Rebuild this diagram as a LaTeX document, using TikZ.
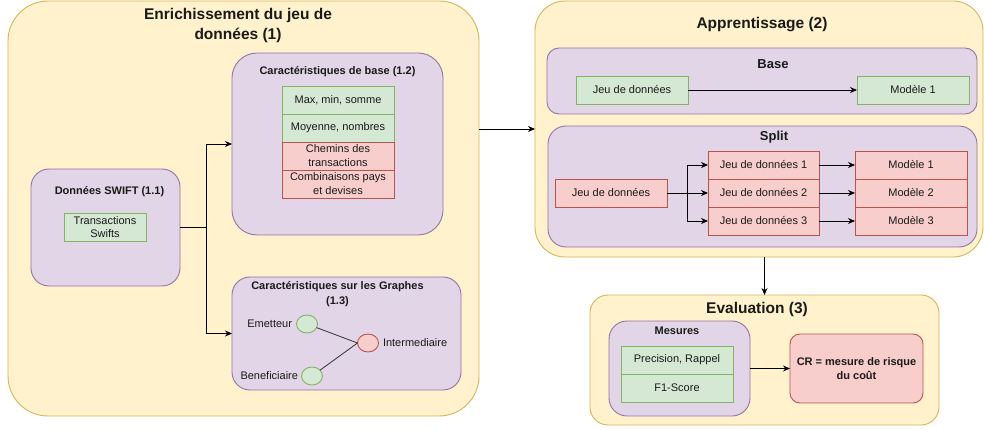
\documentclass[tikz,border=0pt]{standalone}
\usepackage{fontspec}
\setmainfont{Liberation Sans}
\usetikzlibrary{arrows.meta,shapes.geometric}
\definecolor{yfill}{HTML}{FFF2CC}\definecolor{ydraw}{HTML}{D6B656}
\definecolor{pfill}{HTML}{E1D5E7}\definecolor{pdraw}{HTML}{9673A6}
\definecolor{gfill}{HTML}{D5E8D4}\definecolor{gdraw}{HTML}{82B366}
\definecolor{rfill}{HTML}{F8CECC}\definecolor{rdraw}{HTML}{B85450}
\definecolor{txt}{HTML}{1A1A1A}
\begin{document}
\begin{tikzpicture}[x=1pt,y=-1pt,
  every node/.style={inner sep=0pt,outer sep=0pt,text=txt},
  ybox/.style={draw=ydraw,fill=yfill,line width=0.9pt,rectangle},
  pbox/.style={draw=pdraw,fill=pfill,line width=0.9pt,rectangle},
  gcell/.style={draw=gdraw,fill=gfill,line width=0.9pt,rectangle,minimum width=112pt,minimum height=28pt,font=\fontsize{11}{14}\selectfont,align=center},
  rcell/.style={draw=rdraw,fill=rfill,line width=0.9pt,rectangle,minimum width=112pt,minimum height=28pt,font=\fontsize{11}{14}\selectfont,align=center},
  bigtitle/.style={font=\fontsize{15.5}{20}\selectfont\bfseries,align=center},
  subtitle/.style={font=\fontsize{11}{15}\selectfont\bfseries,align=center},
  midtitle/.style={font=\fontsize{13}{16}\selectfont\bfseries,align=center},
  lbl/.style={font=\fontsize{11}{14}\selectfont},
  conn/.style={draw=black,line width=0.8pt,-{Stealth[length=7pt,width=6pt]}},
  gnode/.style={ellipse,draw=gdraw,fill=gfill,line width=0.9pt,minimum width=21pt,minimum height=18pt},
  rnode/.style={ellipse,draw=rdraw,fill=rfill,line width=0.9pt,minimum width=21pt,minimum height=18pt},
]
\useasboundingbox (0,0) rectangle (984,430);
\fill[white] (0,0) rectangle (984,430);

% ---- Box 1
\node[ybox,rounded corners=40pt,minimum width=471pt,minimum height=415pt] (box1) at (243.5,208.5) {};
\node[bigtitle] (t1) at (238,25) {Enrichissement du jeu de\\données (1)};

\node[pbox,rounded corners=18pt,minimum width=149pt,minimum height=117pt] (swift) at (105.5,227.5) {};
\node[subtitle] (tswift) at (109.5,192) {Données SWIFT (1.1)};
\node[gcell,minimum width=82pt,font=\fontsize{11}{13}\selectfont] (trans) at (105,227) {Transactions\\Swifts};

\node[pbox,rounded corners=25pt,minimum width=211pt,minimum height=182pt] (cbase) at (337.5,144) {};
\node[subtitle] (tcbase) at (337.5,72) {Caractéristiques de base (1.2)};
\node[gcell] (c1) at (338,100) {Max, min, somme};
\node[gcell] (c2) at (338,128) {Moyenne, nombres};
\node[rcell,font=\fontsize{11}{14}\selectfont] (c3) at (338,156) {Chemins des\\transactions};
\node[rcell,font=\fontsize{11}{14}\selectfont] (c4) at (338,184) {Combinaisons pays\\et devises};

\node[pbox,rounded corners=18pt,minimum width=229pt,minimum height=113pt] (graph) at (346.5,333.5) {};
\node[subtitle] (tgraph) at (337.5,294.5) {Caractéristiques sur les Graphes\\(1.3)};
\node[gnode] (emit) at (307,324) {};
\node[rnode] (inter) at (368,343) {};
\node[gnode] (benef) at (312,376) {};
\node[lbl,anchor=east] (lemit) at (292,324) {Emetteur};
\node[lbl,anchor=west] (linter) at (383,343) {Intermediaire};
\node[lbl,anchor=east] (lbenef) at (298,376) {Beneficiaire};
\draw[line width=0.8pt,draw=black!80] (emit) -- (inter.west);
\draw[line width=0.8pt,draw=black!80] (benef) -- (inter.west);

\draw[conn] (swift.east) -- ++(26,0) coordinate (split1) |- (cbase.west);
\draw[conn] (split1) |- (graph.west);

% ---- Box 2
\node[ybox,rounded corners=30pt,minimum width=448pt,minimum height=256pt] (appr) at (759,129) {};
\node[bigtitle] (t2) at (762,25) {Apprentissage (2)};

\node[pbox,rounded corners=12pt,minimum width=430pt,minimum height=66pt] (basebox) at (762,81) {};
\node[midtitle] (tbase) at (773,64) {Base};
\node[gcell] (bjdd) at (632,90) {Jeu de données};
\node[gcell] (bmod) at (913,90) {Modèle 1};
\draw[conn] (bjdd) -- (bmod);

\node[pbox,rounded corners=18pt,minimum width=429pt,minimum height=121pt] (splitbox) at (762.5,186.5) {};
\node[midtitle] (tsplit) at (774,137) {Split};
\node[rcell] (sjdd) at (611,193) {Jeu de données};
\node[rcell,minimum width=111pt] (j1) at (763.5,165) {Jeu de données 1};
\node[rcell,minimum width=111pt] (j2) at (763.5,193) {Jeu de données 2};
\node[rcell,minimum width=111pt] (j3) at (763.5,221) {Jeu de données 3};
\node[rcell] (m1) at (911,165) {Modèle 1};
\node[rcell] (m2) at (911,193) {Modèle 2};
\node[rcell] (m3) at (911,221) {Modèle 3};
\draw[conn] (sjdd.east) -- ++(20,0) coordinate (split2) |- (j1.west);
\draw[conn] (sjdd.east) -- (j2.west);
\draw[conn] (split2) |- (j3.west);
\draw[conn] (j1) -- (m1);
\draw[conn] (j2) -- (m2);
\draw[conn] (j3) -- (m3);

\draw[conn] (box1.east |- appr.west) -- (appr.west);

% ---- Box 3
\node[ybox,rounded corners=18pt,minimum width=349pt,minimum height=130pt] (eval) at (764.5,360) {};
\node[bigtitle] (t3) at (757,309) {Evaluation (3)};
\node[pbox,rounded corners=18pt,minimum width=141pt,minimum height=95pt] (mes) at (679.5,368.5) {};
\node[subtitle] (tmes) at (677,331) {Mesures};
\node[gcell] (prec) at (677,360) {Precision, Rappel};
\node[gcell] (f1) at (677,388) {F1-Score};
\node[draw=rdraw,fill=rfill,line width=0.9pt,rectangle,rounded corners=10pt,minimum width=133pt,minimum height=69pt,font=\fontsize{11}{14}\selectfont\bfseries,align=center] (cr) at (856.5,368.5) {CR = mesure de risque\\du coût};
\draw[conn] (mes.east) -- (cr.west);

\draw[conn] (appr.south -| eval.north) -- (eval.north);
\end{tikzpicture}
\end{document}
